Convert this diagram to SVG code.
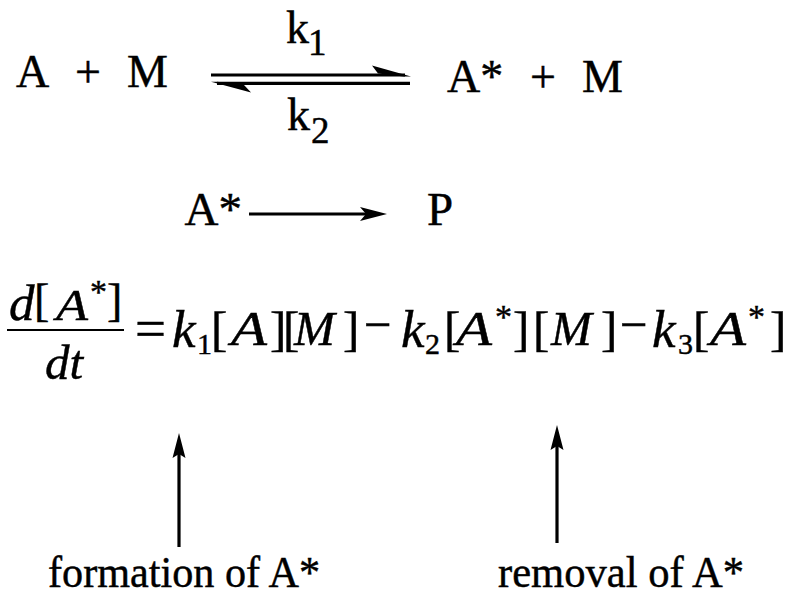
<svg xmlns="http://www.w3.org/2000/svg" width="791" height="592" viewBox="0 0 791 592">
<style>
  .r { font-family: "Liberation Serif", "Times New Roman", serif; fill: #000; stroke: #000; stroke-width: 0.45; }
  .i { font-style: italic; }
  .t45 { font-size: 46px; }
  .t37 { font-size: 37px; }
  .line { stroke: #000; stroke-width: 3.2; fill: none; }
  .head { fill: #000; stroke: none; }
</style>
<rect width="791" height="592" fill="#fff"/>

<g id="reaction1">
  <text class="r t45" x="16" y="87">A</text>
  <text class="r t45" x="75" y="87">+</text>
  <text class="r t45" x="127" y="87">M</text>
  <text class="r t45" x="286" y="43">k<tspan class="t37" x="308" y="55">1</tspan></text>
  <text class="r t45" x="287" y="130">k<tspan class="t37" x="311" y="143">2</tspan></text>
  <text class="r t45" x="447" y="92">A*</text>
  <text class="r t45" x="530" y="92">+</text>
  <text class="r t45" x="582" y="92">M</text>
</g>

<g id="reaction2">
  <text class="r" font-size="47" x="184.5" y="225">A*</text>
  <text class="r" font-size="47" x="427" y="225">P</text>
</g>

<g id="equation">
  <text class="r" font-size="46"><tspan class="i" font-size="51" x="9" y="320">d</tspan><tspan x="34" y="316">[</tspan><tspan class="i" font-size="44" x="56" y="320" textLength="32" lengthAdjust="spacingAndGlyphs">A</tspan><tspan font-size="34" x="90" y="303">*</tspan><tspan x="107" y="316">]</tspan></text>
  <line x1="7" y1="330" x2="124" y2="330" stroke="#000" stroke-width="2"/>
  <text class="r i" font-size="49" x="45" y="379">dt</text>

  <text class="r" font-size="55" x="135" y="347">=</text>

  <text class="r" font-size="49"><tspan class="i" font-size="53" x="172" y="347">k</tspan><tspan font-size="30" x="197" y="354">1</tspan><tspan x="211" y="345">[</tspan><tspan class="i" x="231" y="345" textLength="36" lengthAdjust="spacingAndGlyphs">A</tspan><tspan x="270" y="345">]</tspan><tspan x="283" y="345">[</tspan><tspan class="i" x="294" y="345">M</tspan><tspan x="343" y="345">]</tspan><tspan x="364" y="341">−</tspan><tspan class="i" font-size="53" x="401" y="347">k</tspan><tspan font-size="30" x="425" y="354">2</tspan><tspan x="444" y="345">[</tspan><tspan class="i" x="456" y="345" textLength="36" lengthAdjust="spacingAndGlyphs">A</tspan><tspan font-size="34" x="495" y="328">*</tspan><tspan x="513" y="345">]</tspan><tspan x="533" y="345">[</tspan><tspan class="i" x="551" y="345">M</tspan><tspan x="601" y="345">]</tspan><tspan x="620" y="341">−</tspan><tspan class="i" font-size="53" x="652" y="347">k</tspan><tspan font-size="30" x="678" y="354">3</tspan><tspan x="693" y="345">[</tspan><tspan class="i" x="710" y="345" textLength="36" lengthAdjust="spacingAndGlyphs">A</tspan><tspan font-size="34" x="748" y="328">*</tspan><tspan x="770" y="345">]</tspan></text>
</g>

<g id="label-formation">
  <text class="r" font-size="44" x="48" y="587" textLength="272" lengthAdjust="spacingAndGlyphs">formation of A*</text>
</g>
<g id="label-removal">
  <text class="r" font-size="44" x="498" y="587" textLength="246" lengthAdjust="spacingAndGlyphs">removal of A*</text>
</g>

<g id="connectors">
  <line class="line" x1="211" y1="75" x2="405" y2="75"/>
  <polygon class="head" points="372,65.5 411,76.6 404,76.6 378,73.4"/>
  <line class="line" x1="217" y1="83.3" x2="410" y2="83.3"/>
  <polygon class="head" points="211,81.7 217,81.7 244,85 251,92.5"/>
  <line class="line" x1="249" y1="214" x2="368" y2="214"/>
  <polygon class="head" points="387,214 360,207 366,214 360,221"/>
  <line class="line" x1="179" y1="547" x2="179" y2="452"/>
  <polygon class="head" points="179,433 172.5,458 179,454 185.5,458"/>
  <line class="line" x1="557" y1="543" x2="557" y2="444"/>
  <polygon class="head" points="557,425 550.5,450 557,446 563.5,450"/>
</g>
</svg>
